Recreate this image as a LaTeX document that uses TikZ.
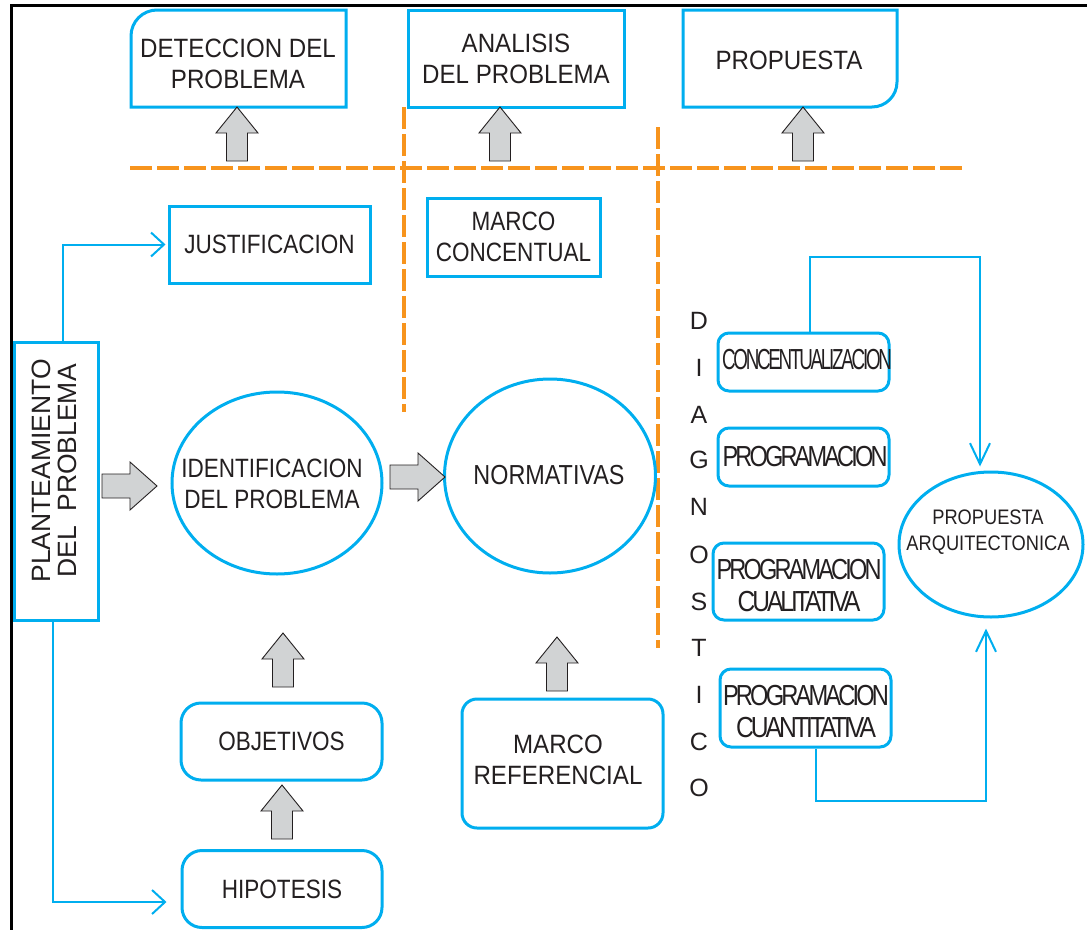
\documentclass[tikz,border=0pt]{standalone}
\usepackage{fontspec}
\setmainfont{Liberation Sans}
\newfontfamily\fTop[FakeStretch=0.91]{Liberation Sans}
\newfontfamily\fMid[FakeStretch=0.85]{Liberation Sans}
\newfontfamily\fSm[FakeStretch=0.87]{Liberation Sans}
\newfontfamily\fDiag[LetterSpace=-12]{Liberation Sans}
\usetikzlibrary{arrows.meta,shapes.geometric}
\definecolor{cy}{HTML}{00AEEF}
\definecolor{orng}{HTML}{F7941D}
\definecolor{ink}{HTML}{231F20}
\definecolor{gfill}{HTML}{D1D3D4}
\newcommand\fitx[2]{\resizebox{#1}{\height}{#2}}
\newcommand\blkup[2]{\draw[blk] (#1,#2) -- ++(21,26) -- ++(-10.5,0) -- ++(0,28) -- ++(-21,0) -- ++(0,-28) -- ++(-10.5,0) -- cycle;}
\newcommand\blkright[2]{\draw[blk] (#1,#2) -- ++(-27,-24) -- ++(0,12) -- ++(-28,0) -- ++(0,24) -- ++(28,0) -- ++(0,12) -- cycle;}
\tikzset{
  box/.style={draw=cy, line width=3bp, inner sep=0pt, text=ink, align=center},
  txt/.style={text=ink, align=center, inner sep=0pt},
  topf/.style={font=\fTop\fontsize{26.5bp}{31bp}\selectfont},
  midf/.style={font=\fMid\fontsize{26.5bp}{31bp}\selectfont},
  diagf/.style={font=\fDiag\fontsize{29bp}{32bp}\selectfont},
  letf/.style={font=\fontsize{25bp}{30bp}\selectfont},
  conn/.style={draw=cy, line width=2bp},
  odash/.style={draw=orng, line width=4.5bp, dash pattern=on 22bp off 5bp},
  blk/.style={fill=gfill, draw=ink, line width=0.9bp, line join=miter},
  barbL/.style={-{Straight Barb[length=13bp,width=24bp,line width=2bp]}},
  barbR/.style={-{Straight Barb[length=21bp,width=20bp,line width=2bp]}},
}
\begin{document}
\begin{tikzpicture}[x=1bp,y=-1bp]
\useasboundingbox (0,0) rectangle (1087,930);
% frame
\draw[line width=3bp] (11,930) -- (11,5.5) -- (1087,5.5);
% orange dashed separators
\draw[odash] (130,168) -- (962,168);
\draw[odash] (404,107) -- (404,412);
\draw[odash] (658,127) -- (658,648);
% top boxes
\node[minimum width=215bp, minimum height=97bp, inner sep=0pt] (det) at (238.5,58.5) {};
\draw[cy, line width=3bp] (131,107) -- (131,36) .. controls (131,21.64) and (142.64,10) .. (157,10) -- (346,10) -- (346,107) -- cycle;
\node[txt,topf] (dett) at (238,64) {DETECCION DEL\\PROBLEMA};
\node[box,topf, minimum width=216bp, minimum height=97bp] (ana) at (516,58.5) {ANALISIS\\DEL PROBLEMA};
\node[minimum width=214bp, minimum height=97bp, inner sep=0pt] (prop) at (790,58.5) {};
\draw[cy, line width=3bp] (683,10) -- (897,10) -- (897,82) .. controls (897,95.8) and (885.8,107) .. (872,107) -- (683,107) -- cycle;
\node[txt,topf] (propt) at (789,60) {PROPUESTA};
% block arrows top
\blkup{237}{107}
\blkup{500}{107}
\blkup{803}{107}
% middle boxes
\node[box,midf, minimum width=201bp, minimum height=77bp] (just) at (269.5,244.5) {JUSTIFICACION};
\node[box,midf, minimum width=173bp, minimum height=78bp] (mc) at (513.5,237) {MARCO\\CONCENTUAL};
\node[box, minimum width=83bp, minimum height=278bp] (plan) at (56.5,481) {};
\node[txt, rotate=90, font=\fontsize{26.5bp}{26bp}\selectfont] (plant) at (54,471) {PLANTEAMIENTO\\DEL\ \ PROBLEMA};
\node[box, ellipse, minimum width=210bp, minimum height=182bp] (ide) at (277,483) {};
\node[txt,midf] (idet) at (272,484) {IDENTIFICACION\\DEL PROBLEMA};
\node[box, ellipse, minimum width=211bp, minimum height=194bp] (nor) at (550,476) {};
\node[txt,font=\fMid\fontsize{27.5bp}{31bp}\selectfont] (nort) at (549,475) {NORMATIVAS};
\blkright{157}{486}
\blkright{445}{477}
% lower boxes
\node[box,midf, rounded corners=20bp, minimum width=201bp, minimum height=77bp] (obj) at (281.5,741.5) {OBJETIVOS};
\node[box,midf, rounded corners=20bp, minimum width=200bp, minimum height=77bp] (hip) at (282,889) {HIPOTESIS};
\node[box, rounded corners=15bp, minimum width=201bp, minimum height=129bp] (mref) at (562.5,763.5) {};
\node[txt,topf] (mreft) at (558,760) {MARCO\\REFERENCIAL};
\blkup{283}{633}
\blkup{282}{785}
\blkup{557}{637}
% left connectors
\draw[conn,barbL,shorten >=2bp] ([xshift=6.5bp]plan.north) |- (just.west);
\draw[conn,barbL,shorten >=14bp] ([xshift=-3.5bp]plan.south) |- ([yshift=-13bp]hip.west);
% DIAGNOSTICO
\foreach \l/\y [count=\i] in {D/321,I/368,A/415,G/460,N/507,O/555,S/602,T/648,I/695,C/742,O/788}
  \node[txt,letf] (dg\i) at (699,\y) {\l};
\node[box, rounded corners=11bp, minimum width=171bp, minimum height=58bp] (conc) at (803.5,362) {};
\node[txt,diagf] (conct) at (807,360) {\fitx{170bp}{CONCENTUALIZACION}};
\node[box, rounded corners=11bp, minimum width=171bp, minimum height=58bp] (prg) at (803.5,457) {};
\node[txt,diagf] (prgt) at (805,457) {\fitx{165bp}{PROGRAMACION}};
\node[box, rounded corners=11bp, minimum width=171bp, minimum height=77bp] (cual) at (798.5,581.5) {};
\node[txt,diagf] (cualt) at (799,586) {\fitx{165bp}{PROGRAMACION}\\\fitx{123bp}{CUALITATIVA}};
\node[box, rounded corners=11bp, minimum width=171bp, minimum height=78bp] (cuan) at (805.5,708) {};
\node[txt,diagf] (cuant) at (806,712) {\fitx{166bp}{PROGRAMACION}\\\fitx{140bp}{CUANTITATIVA}};
% propuesta arquitectonica
\node[box, ellipse, minimum width=184bp, minimum height=145bp] (pa) at (991,544.5) {};
\node[txt,font=\fSm\fontsize{21bp}{26bp}\selectfont] (pat) at (988,532) {PROPUESTA\\ARQUITECTONICA};
% right connectors
\draw[conn,barbR] ([xshift=6.5bp]conc.north) -- ++(0,-75) -| ([xshift=-11bp,yshift=4bp]pa.north);
\draw[conn,barbR] ([xshift=10.5bp]cuan.south) -- ++(0,52) -| ([xshift=-5bp,yshift=-10bp]pa.south);
\end{tikzpicture}
\end{document}
